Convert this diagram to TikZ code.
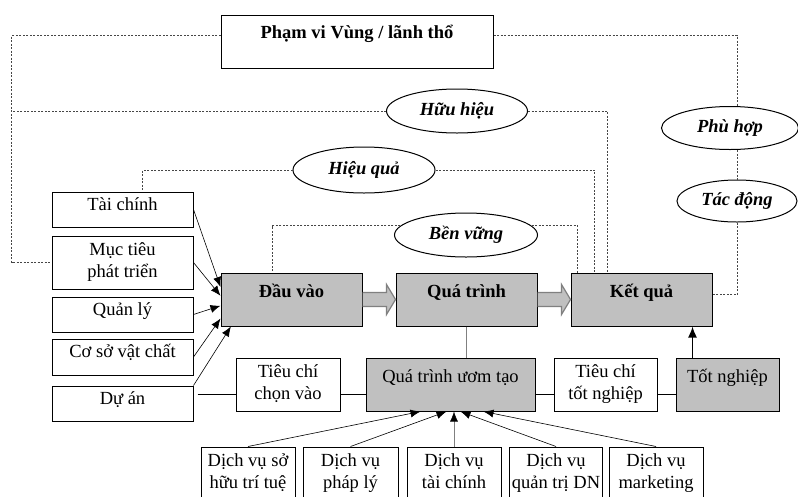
\documentclass[tikz,border=0pt]{standalone}
\usepackage{fontspec}
\setmainfont{Liberation Serif}
\usetikzlibrary{calc,arrows.meta,shapes.geometric}

\definecolor{boxgray}{RGB}{192,192,192}
\definecolor{edgegray}{RGB}{128,128,128}
\definecolor{dotgray}{RGB}{70,70,70}

\tikzset{
  box/.style={draw, line width=1pt, inner xsep=2pt, inner ysep=0pt,
    font=\fontsize{18.5}{22}\selectfont},
  lowbox/.style={box, minimum height=35pt, text height=18pt, text depth=17pt},
  tallbox/.style={box, minimum height=53pt, text height=24pt, text depth=29pt},
  twoline/.style={box, align=center, minimum height=53pt, text depth=4pt},
  greybox/.style={fill=boxgray},
  bold/.style={font=\fontsize{18.5}{22}\selectfont\bfseries},
  oval/.style={draw, ellipse, line width=1pt, inner sep=0pt,
    font=\fontsize{18.5}{22}\selectfont\bfseries\itshape},
  dots/.style={draw=dotgray, line width=0.7pt, dash pattern=on 2pt off 1.5pt},
  feed/.style={-{Latex[length=10pt,width=8pt]}, line width=0.6pt},
  link/.style={line width=1.4pt},
  uparr/.style={-{Latex[length=11pt,width=9pt]}, line width=1.6pt},
  fatarr/.style={draw=edgegray, fill=boxgray, line width=1.2pt},
}

% thick grey arrow between two boxes of the main row
\newcommand{\fatlink}[2]{%
  \draw[fatarr] ($(#1.east)+(0,-7)$) -- ($(#2.west)+(-9,-7)$)
    -- ($(#2.west)+(-9,-15)$) -- (#2.west) -- ($(#2.west)+(-9,15)$)
    -- ($(#2.west)+(-9,7)$) -- ($(#1.east)+(0,7)$);}

\begin{document}
\begin{tikzpicture}[x=1pt, y=-1pt]
  \useasboundingbox (0,0) rectangle (798,496);

  % scope and criteria
  \node[tallbox, bold, minimum width=272pt, text height=23pt, text depth=30pt]
    (scope) at (357,41.5) {Phạm vi Vùng / lãnh thổ};
  \node[oval, minimum width=141pt, minimum height=44pt] (hh) at (457,111) {Hữu hiệu};
  \node[oval, minimum width=142pt, minimum height=46pt] (hq) at (364,170) {Hiệu quả};
  \node[oval, minimum width=143pt, minimum height=44pt] (bv) at (466,235) {Bền vững};
  \node[oval, minimum width=137pt, minimum height=43pt] (ph) at (730,128) {Phù hợp};
  \node[oval, minimum width=120pt, minimum height=42pt] (td) at (737,201) {Tác động};

  % inputs
  \node[lowbox, minimum width=141pt] (fin) at (122.5,209.5) {Tài chính};
  \node[twoline, minimum width=141pt] (goal) at (122.5,262.5) {Mục tiêu\\phát triển};
  \node[lowbox, minimum width=141pt] (mgmt) at (122.5,314.5) {Quản lý};
  \node[lowbox, minimum width=141pt, minimum height=36pt] (infra) at (122.5,357) {Cơ sở vật chất};
  \node[lowbox, minimum width=141pt] (proj) at (122.5,403.5) {Dự án};

  % main row
  \node[tallbox, greybox, bold, minimum width=141pt] (input) at (291.5,299.5) {Đầu vào};
  \node[tallbox, greybox, bold, minimum width=141pt] (proc) at (466.5,299.5) {Quá trình};
  \node[tallbox, greybox, bold, minimum width=141pt] (out) at (641.5,299.5) {Kết quả};

  % incubation row
  \node[twoline, minimum width=104pt] (selcrit) at (288,384.5) {Tiêu chí\\chọn vào};
  \node[tallbox, greybox, minimum width=169pt] (incub) at (450.5,384.5) {Quá trình ươm tạo};
  \node[twoline, minimum width=103pt] (gradcrit) at (605.5,384.5) {Tiêu chí\\tốt nghiệp};
  \node[tallbox, greybox, minimum width=103pt] (grad) at (727.5,384.5) {Tốt nghiệp};

  % services
  \node[twoline, minimum width=94pt, minimum height=52pt] (s1) at (248,473) {Dịch vụ sở\\hữu trí tuệ};
  \node[twoline, minimum width=95pt, minimum height=52pt] (s2) at (350.5,473) {Dịch vụ\\pháp lý};
  \node[twoline, minimum width=94pt, minimum height=52pt] (s3) at (454,473) {Dịch vụ\\tài chính};
  \node[twoline, minimum width=92pt, minimum height=52pt] (s4) at (556,473) {Dịch vụ\\quản trị DN};
  \node[twoline, minimum width=94pt, minimum height=52pt] (s5) at (656,473) {Dịch vụ\\marketing};

  % dotted links
  \coordinate (lft) at ([xshift=-40pt]goal.west);
  \draw[dots] (scope.mid west) -| (lft) -- (goal.west);
  \draw[dots] (hh.west) -- (hh.west -| lft);
  \draw[dots] (scope.mid east) -| (td.north |- ph.north);
  \draw[dots] (td.north |- ph.south) -- (td.north);
  \draw[dots] (td.south) |- (out.mid east);
  \draw[dots] (hh.east) -| ([xshift=37pt]out.north west);
  \draw[dots] (hq.west) -| ([xshift=20pt]fin.north);
  \draw[dots] (hq.east) -| ([xshift=24pt]out.north west);
  \draw[dots] (bv.172) -| ([xshift=52pt]input.north west);
  \draw[dots] (bv.8) -| ([xshift=7pt]out.north west);

  % main flow
  \fatlink{input}{proc}
  \fatlink{proc}{out}
  \draw[feed] (fin.east) -- (input.170);
  \draw[feed] (goal.east) -- (input.177);
  \draw[feed] (mgmt.east) -- (input.185);
  \draw[feed] (infra.east) -- (input.195);
  \draw[feed] (proj.north east) -- (input.204);

  % incubation flow
  \draw[link] ($(proj.east |- selcrit.west)+(4,10)$) -- ($(selcrit.west)+(0,10)$);
  \draw[link] ($(selcrit.east)+(0,10)$) -- ($(incub.west)+(0,10)$);
  \draw[link] ($(incub.east)+(0,10)$) -- ($(gradcrit.west)+(0,10)$);
  \draw[link] ($(gradcrit.east)+(0,10)$) -- ($(grad.west)+(0,10)$);
  \coordinate (gradtop) at ([xshift=17pt]grad.north west);
  \draw[uparr] (gradtop) -- (gradtop |- out.south);
  \draw[draw=edgegray, line width=1.4pt] (proc.south) -- (proc.south |- incub.north);

  \draw[feed] (s1.north) -- ([xshift=-30pt]incub.south);
  \draw[feed] (s2.north) -- ([xshift=-4pt]incub.south);
  \draw[feed, draw=edgegray, -{Latex[length=10pt,width=8pt,black]}] (s3.north) -- (s3.north |- incub.south);
  \draw[feed] (s4.north) -- ([xshift=10pt]incub.south);
  \draw[feed] (s5.north) -- ([xshift=33pt]incub.south);
\end{tikzpicture}
\end{document}
